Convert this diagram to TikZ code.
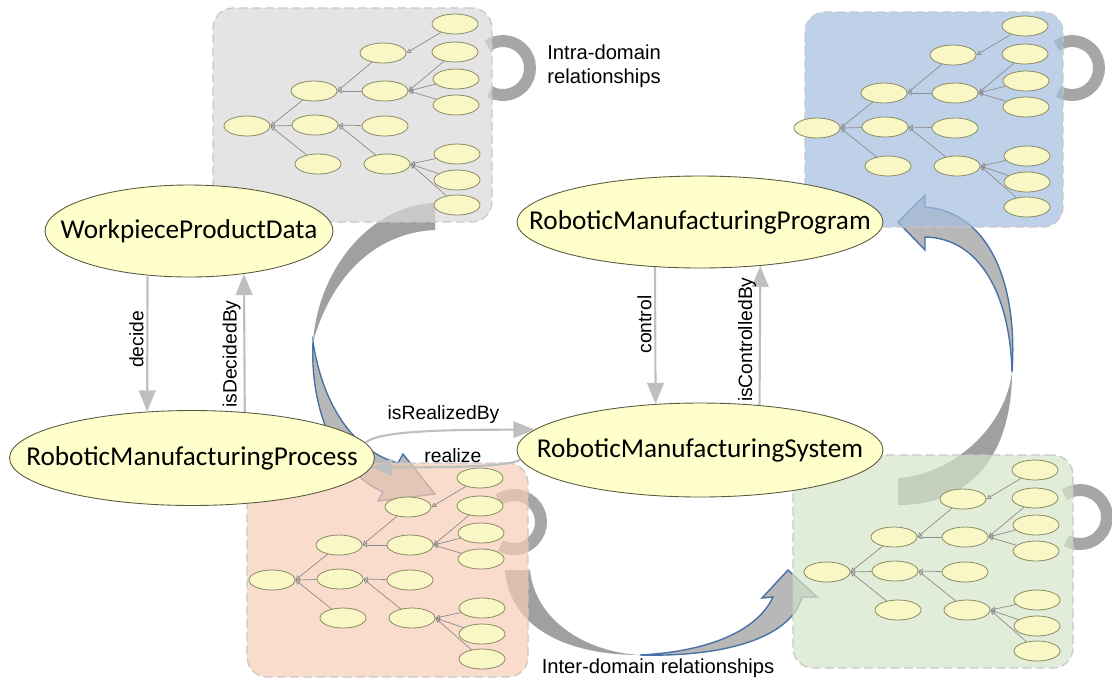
\documentclass[tikz,border=0pt]{standalone}
\usepackage{fontspec}
\setmainfont{Carlito}
\newfontfamily\arialf{Liberation Sans}
\usetikzlibrary{shapes.geometric,arrows.meta}
\definecolor{tnfill}{HTML}{F9F7C6}
\definecolor{tnline}{HTML}{8A8A64}
\definecolor{teline}{HTML}{8C8C8C}
\definecolor{mainfill}{HTML}{FFFFCC}
\definecolor{mainline}{HTML}{5A5A40}
\definecolor{connc}{HTML}{BFBFBF}
\definecolor{loopc}{HTML}{A6A6A6}
\definecolor{arrback}{HTML}{A0A0A0}
\definecolor{arrfront}{HTML}{B8B8B8}
\definecolor{arrblue}{HTML}{4A72A6}
\definecolor{boxline}{HTML}{C8C8C8}
\definecolor{gboxc}{HTML}{D9D9D9}
\definecolor{bboxc}{HTML}{A3BEE0}
\definecolor{oboxc}{HTML}{F6CDB5}
\definecolor{nboxc}{HTML}{D5E5C9}
\newcommand\ontree[2]{%
\begin{scope}[shift={(#1)},name prefix=#2-]
\node[tn] (r) at (0,0) {};
\node[tn] (a) at (67,-35) {};
\node[tn] (b) at (68,-1) {};
\node[tn] (c) at (71,38) {};
\node[tn] (d) at (136,-73) {};
\node[tn] (e) at (138,-35) {};
\node[tn] (f) at (138,0) {};
\node[tn] (g) at (140,38) {};
\node[tn] (h1) at (208,-102) {};
\node[tn] (h2) at (208,-74) {};
\node[tn] (h3) at (209,-47) {};
\node[tn] (h4) at (209,-21) {};
\node[tn] (h5) at (210,28) {};
\node[tn] (h6) at (210,54) {};
\node[tn] (h7) at (210,79) {};
\foreach \c/\p in {a/r,b/r,c/r,d/a,e/a,f/b,g/b,h1/d,h2/e,h3/e,h4/e,h5/g,h6/g,h7/g}
  \draw[te] (\c) -- (\p.east);
\end{scope}}
\begin{document}
\begin{tikzpicture}[x=0.02cm,y=-0.02cm,
  tn/.style={ellipse,draw=tnline,fill=tnfill,line width=0.45pt,minimum width=0.92cm,minimum height=0.4cm,inner sep=0pt},
  te/.style={draw=teline,line width=0.4pt,-{Triangle[open,length=2.6pt,width=2.6pt]}},
  dombox/.style={rectangle,rounded corners=0.4cm,draw=boxline,dash pattern=on 5pt off 2.5pt,line width=0.7pt,fill opacity=0.7,inner sep=0pt},
  mainnode/.style={ellipse,draw=mainline,fill=mainfill,line width=0.5pt,inner sep=0pt},
  mainlab/.style={font=\fontsize{15.5}{18}\selectfont,inner sep=0pt},
  conn/.style={draw=connc,line width=1.2pt,-{Triangle[length=12pt,width=9.5pt]}},
  elab/.style={font=\arialf\fontsize{11}{13}\selectfont,inner sep=1.5pt},
  bigtext/.style={font=\arialf\fontsize{11.5}{13.7}\selectfont,inner sep=0pt},
  loopst/.style={draw=loopc,line width=6.8pt},
  backarr/.style={fill=arrback},
  frontarr/.style={fill=arrfront,draw=arrblue,line width=0.8pt},
]
\useasboundingbox (0,0) rectangle (1112,681);

% intra-domain loops
\draw[loopst] (503,68) ++(-125:27) arc[start angle=-125,end angle=120,radius=27];
\draw[loopst] (1072,68) ++(-125:27) arc[start angle=-125,end angle=120,radius=27];
\draw[loopst] (514,522) ++(-125:27) arc[start angle=-125,end angle=120,radius=27];
\draw[loopst] (1080,517) ++(-125:27) arc[start angle=-125,end angle=120,radius=27];

% inter-domain curved block arrows
\fill[backarr] (435,203) -- (435,230) .. controls (385,232) and (335,265) .. (313,342) .. controls (318,270) and (370,205) .. (435,203) -- cycle;
\filldraw[frontarr] (313,342) .. controls (322,400) and (350,450) .. (398,463) -- (403,454) -- (435,494) -- (378,501) -- (383,492) .. controls (335,470) and (310,410) .. (313,342) -- cycle;

\fill[backarr] (898,478) -- (898,505) .. controls (975,505) and (1012,450) .. (1012,372) .. controls (1005,430) and (950,475) .. (898,478) -- cycle;
\filldraw[frontarr] (1012,372) .. controls (1018,285) and (990,212) .. (925,207) -- (925,195) -- (898,222) -- (925,250) -- (925,237) .. controls (980,238) and (1010,295) .. (1012,372) -- cycle;

\fill[backarr] (505,570) -- (530,570) .. controls (535,620) and (585,652) .. (640,655) .. controls (570,655) and (510,630) .. (505,570) -- cycle;
\filldraw[frontarr] (640,655) .. controls (720,657) and (790,640) .. (802,597) -- (817,597) -- (788,570) -- (762,598) -- (773,597) .. controls (755,635) and (700,652) .. (640,655) -- cycle;

% domain boxes
\node[dombox,fill=gboxc,minimum width=5.58cm,minimum height=4.28cm] (gbox) at (352.5,115) {};
\node[dombox,fill=bboxc,minimum width=5.16cm,minimum height=4.3cm] (bbox) at (934,119.5) {};
\node[dombox,fill=oboxc,minimum width=5.62cm,minimum height=4.28cm] (obox) at (387.5,570) {};
\node[dombox,fill=nboxc,minimum width=5.6cm,minimum height=4.26cm] (nbox) at (933,561.5) {};

% ontology trees
\ontree{247,126}{gt}
\ontree{817,128}{bt}
\ontree{272,580}{ot}
\ontree{827,572}{nt}

% main concepts
\node[mainnode,minimum width=5.76cm,minimum height=1.84cm,label={[mainlab]center:WorkpieceProductData}] (wpd) at (189,231) {};
\node[mainnode,minimum width=7.3cm,minimum height=1.9cm,label={[mainlab]center:RoboticManufacturingProcess}] (rmp) at (192,458) {};
\node[mainnode,minimum width=7.32cm,minimum height=1.84cm,label={[mainlab]center:RoboticManufacturingProgram}] (rmprog) at (700,222) {};
\node[mainnode,minimum width=7.32cm,minimum height=1.88cm,label={[mainlab]center:RoboticManufacturingSystem}] (rms) at (700,450) {};

% relations
\draw[conn] (wpd.-133.7) -- node[elab,rotate=90,anchor=south,pos=0.47]{decide} (rmp.134.4);
\draw[conn] (rmp.41.8) -- node[elab,rotate=90,anchor=south,pos=0.42]{isDecidedBy} (wpd.-38.3);
\draw[conn] (rmprog.-135.3) -- node[elab,rotate=90,anchor=south,pos=0.42]{control} (rms.134.6);
\draw[conn] (rms.37) -- node[elab,rotate=90,anchor=south,pos=0.47]{isControlledBy} (rmprog.-36.4);
\draw[conn] (rmp.5) .. controls +(12,-12) and +(-90,0) .. node[elab,pos=0.62,anchor=south,yshift=2pt]{isRealizedBy} (rms.173);
\draw[conn] (rms.183) .. controls +(-8,8) and +(60,0) .. node[elab,pos=0.57,anchor=south]{realize} (rmp.-3);

% captions
\node[bigtext,align=left,anchor=west] (intra) at (547,66) {Intra-domain\\relationships};
\node[bigtext] (inter) at (658,668) {Inter-domain relationships};
\end{tikzpicture}
\end{document}
